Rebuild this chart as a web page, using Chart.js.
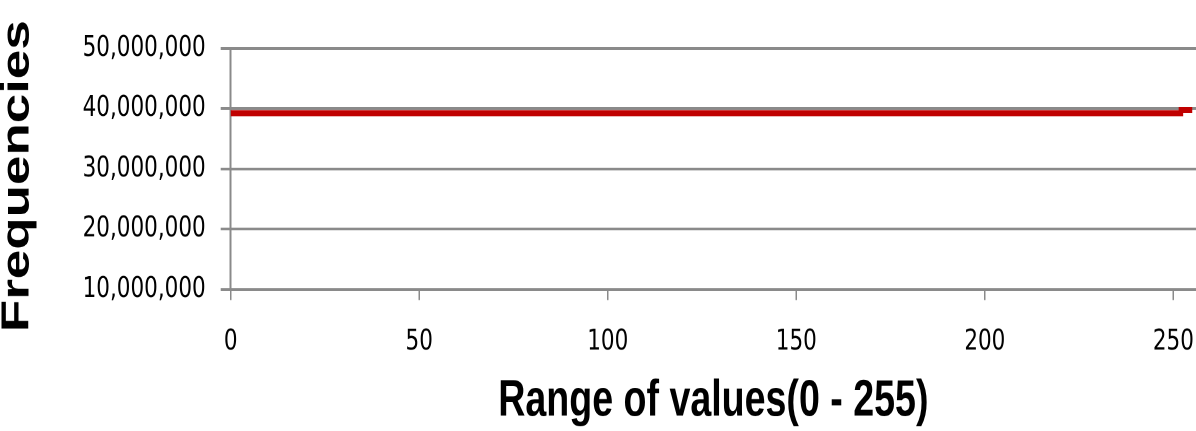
<!DOCTYPE html>
<html><head><meta charset="utf-8">
<script src="https://cdn.jsdelivr.net/npm/chart.js@4/dist/chart.umd.min.js"></script>
<style>
html,body{margin:0;padding:0;background:#fff;overflow:hidden;}
#wrap{width:1196px;height:431px;overflow:hidden;background:#fff;}
canvas{display:block;transform:scaleY(1.346875);transform-origin:0 0;}
</style></head><body><div id="wrap"><canvas id="c" width="1196" height="320"></canvas></div>
<script>
const levels = [
0,1,2,3,4,5,6,7,8,9,10,11,12,13,14,15,
16,17,18,19,20,21,22,23,24,25,26,27,28,29,30,31,
32,33,34,35,36,37,38,39,40,41,42,43,44,45,46,47,
48,49,50,51,52,53,54,55,56,57,58,59,60,61,62,63,
64,65,66,67,68,69,70,71,72,73,74,75,76,77,78,79,
80,81,82,83,84,85,86,87,88,89,90,91,92,93,94,95,
96,97,98,99,100,101,102,103,104,105,106,107,108,109,110,111,
112,113,114,115,116,117,118,119,120,121,122,123,124,125,126,127,
128,129,130,131,132,133,134,135,136,137,138,139,140,141,142,143,
144,145,146,147,148,149,150,151,152,153,154,155,156,157,158,159,
160,161,162,163,164,165,166,167,168,169,170,171,172,173,174,175,
176,177,178,179,180,181,182,183,184,185,186,187,188,189,190,191,
192,193,194,195,196,197,198,199,200,201,202,203,204,205,206,207,
208,209,210,211,212,213,214,215,216,217,218,219,220,221,222,223,
224,225,226,227,228,229,230,231,232,233,234,235,236,237,238,239,
240,241,242,243,244,245,246,247,248,249,250,251,252,253,254,255
];
const frequencies = [
39250000,39250000,39250000,39250000,39250000,39250000,39250000,39250000,39250000,39250000,39250000,39250000,39250000,39250000,39250000,39250000,
39250000,39250000,39250000,39250000,39250000,39250000,39250000,39250000,39250000,39250000,39250000,39250000,39250000,39250000,39250000,39250000,
39250000,39250000,39250000,39250000,39250000,39250000,39250000,39250000,39250000,39250000,39250000,39250000,39250000,39250000,39250000,39250000,
39250000,39250000,39250000,39250000,39250000,39250000,39250000,39250000,39250000,39250000,39250000,39250000,39250000,39250000,39250000,39250000,
39250000,39250000,39250000,39250000,39250000,39250000,39250000,39250000,39250000,39250000,39250000,39250000,39250000,39250000,39250000,39250000,
39250000,39250000,39250000,39250000,39250000,39250000,39250000,39250000,39250000,39250000,39250000,39250000,39250000,39250000,39250000,39250000,
39250000,39250000,39250000,39250000,39250000,39250000,39250000,39250000,39250000,39250000,39250000,39250000,39250000,39250000,39250000,39250000,
39250000,39250000,39250000,39250000,39250000,39250000,39250000,39250000,39250000,39250000,39250000,39250000,39250000,39250000,39250000,39250000,
39250000,39250000,39250000,39250000,39250000,39250000,39250000,39250000,39250000,39250000,39250000,39250000,39250000,39250000,39250000,39250000,
39250000,39250000,39250000,39250000,39250000,39250000,39250000,39250000,39250000,39250000,39250000,39250000,39250000,39250000,39250000,39250000,
39250000,39250000,39250000,39250000,39250000,39250000,39250000,39250000,39250000,39250000,39250000,39250000,39250000,39250000,39250000,39250000,
39250000,39250000,39250000,39250000,39250000,39250000,39250000,39250000,39250000,39250000,39250000,39250000,39250000,39250000,39250000,39250000,
39250000,39250000,39250000,39250000,39250000,39250000,39250000,39250000,39250000,39250000,39250000,39250000,39250000,39250000,39250000,39250000,
39250000,39250000,39250000,39250000,39250000,39250000,39250000,39250000,39250000,39250000,39250000,39250000,39250000,39250000,39250000,39250000,
39250000,39250000,39250000,39250000,39250000,39250000,39250000,39250000,39250000,39250000,39250000,39250000,39250000,39250000,39250000,39250000,
39250000,39250000,39250000,39250000,39250000,39250000,39250000,39250000,39250000,39250000,39250000,39250000,39250000,39750000,39750000,39750000
];
const xTickValues = [0, 50, 100, 150, 200, 250];
const yTickValues = [10000000, 20000000, 30000000, 40000000, 50000000];
const xTitle = 'Range of values(0 - 255)';
const yTitle = 'Frequencies';

const points = levels.map((l, i) => ({x: l, y: frequencies[i]}));
const gridGray = '#8a8a8a';
const tickFont = {family: 'DejaVu Sans', size: 21.5};

new Chart(document.getElementById('c'), {
  type: 'line',
  data: {datasets: [{
    data: points,
    borderColor: '#c00000',
    borderWidth: 4.5,
    pointRadius: 0,
    stepped: 'after',
    fill: false,
    borderCapStyle: 'butt'
  }]},
  options: {
    responsive: false,
    animation: false,
    devicePixelRatio: 2,
    layout: {padding: {top: 35.9, left: 0, right: 0, bottom: 0}},
    plugins: {legend: {display: false}, tooltip: {enabled: false}},
    scales: {
      x: {
        type: 'linear',
        min: 0, max: 256,
        afterBuildTicks: s => { s.ticks = xTickValues.map(v => ({value: v})); },
        afterFit: s => { s.height = 105.2; s.paddingLeft = 0; s.paddingRight = 0; },
        grid: {drawOnChartArea: false, drawTicks: true, tickLength: 8, color: gridGray, lineWidth: 1.5},
        border: {display: true, color: gridGray, width: 2},
        ticks: {color: '#000', font: tickFont, padding: 18, maxRotation: 0, autoSkip: false},
        title: {display: true, text: xTitle, color: '#000',
          font: {family: 'Liberation Sans', size: 37.6, weight: 'bold', lineHeight: 1},
          padding: {top: 0, bottom: 3}}
      },
      y: {
        min: 10000000, max: 50000000,
        afterBuildTicks: s => { s.ticks = yTickValues.map(v => ({value: v})); },
        afterFit: s => { s.width = 230.7; s.paddingTop = 0; s.paddingBottom = 0; },
        grid: {drawTicks: true, tickLength: 10, color: gridGray, lineWidth: 2},
        border: {display: true, color: gridGray, width: 2},
        ticks: {color: '#000', font: tickFont, padding: 15,
          callback: v => Number(v).toLocaleString('en-US')},
        title: {display: true, text: yTitle + ' ', color: '#000',
          font: {family: 'Liberation Sans', size: 39.3, weight: 'bold', lineHeight: 1},
          padding: {top: -2, bottom: 0}}
      }
    }
  }
});
</script>
</body></html>
